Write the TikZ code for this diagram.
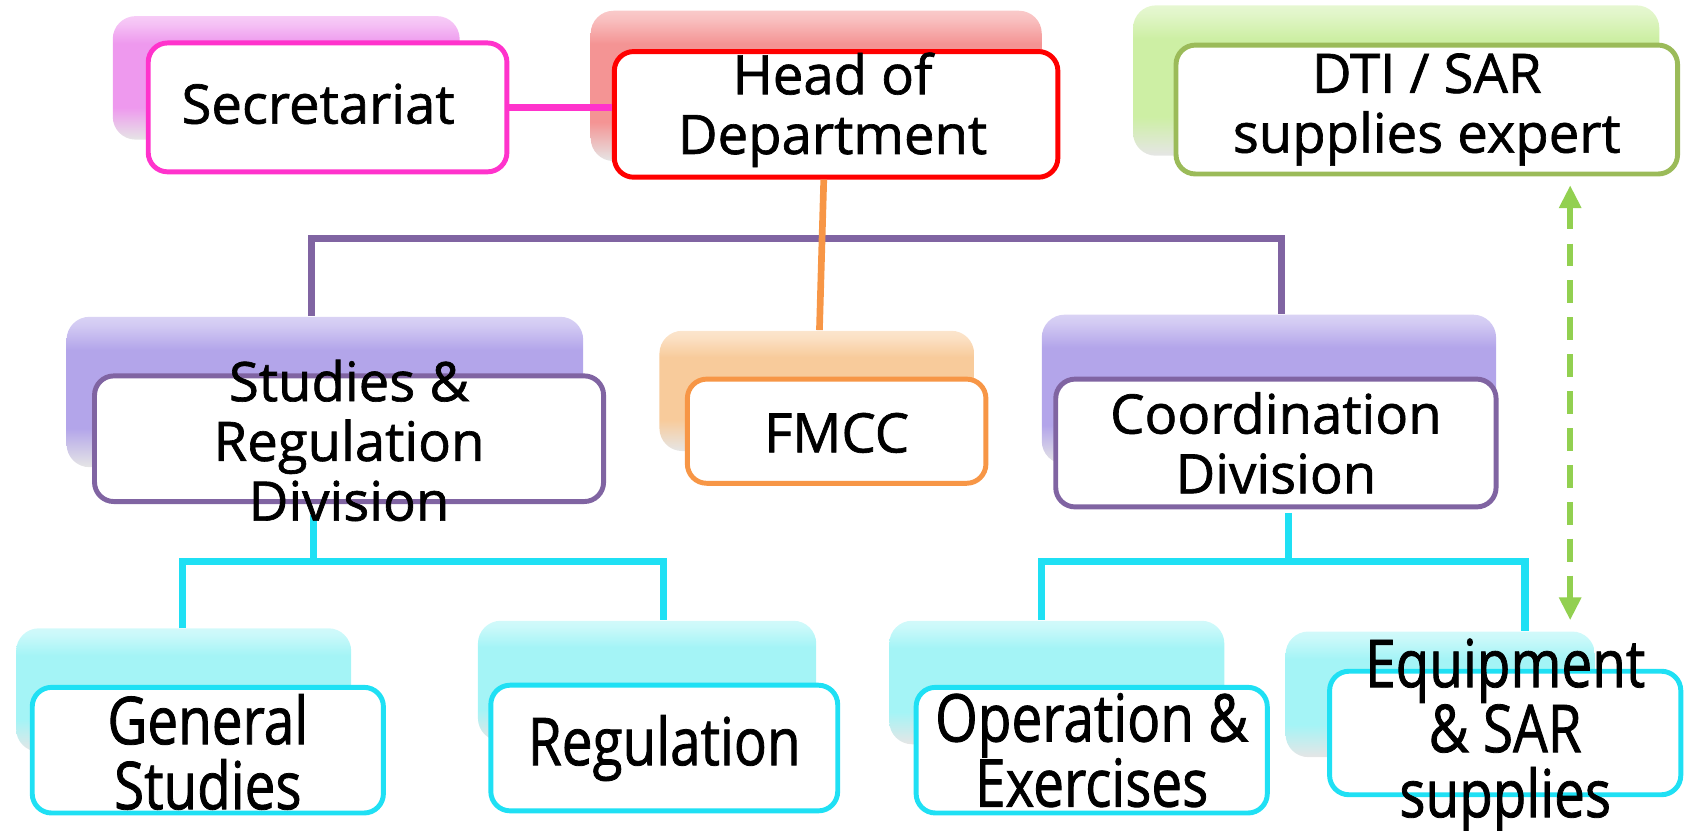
\documentclass[tikz,border=0pt]{standalone}
\usepackage{fontspec}
\setmainfont{Open Sans}[FakeBold=1.2]
\newfontfamily\tallfont[FakeStretch=0.83,FakeBold=1.2]{Open Sans}
\usepackage{tikz}
\usetikzlibrary{arrows.meta}

\definecolor{pinkline}{HTML}{FF33CC}
\definecolor{pinkback}{HTML}{EE99EE}
\definecolor{redline}{HTML}{FF0000}
\definecolor{redback}{HTML}{F49494}
\definecolor{greenline}{HTML}{9BBB59}
\definecolor{greenback}{HTML}{CDEFA4}
\definecolor{arrowgreen}{HTML}{92D050}
\definecolor{purpleline}{HTML}{8064A2}
\definecolor{purpleback}{HTML}{B3A5EA}
\definecolor{orangeline}{HTML}{F79646}
\definecolor{orangeback}{HTML}{F8CB9B}
\definecolor{cyanline}{HTML}{1FE0F4}
\definecolor{cyanback}{HTML}{A4F4F6}

% glossy fill of the back boxes
\newcommand\glossy[2]{\pgfdeclareverticalshading{#1}{100bp}{color(0bp)=(white!88!black); color(25bp)=(white!90!black); color(38bp)=(#2); color(64bp)=(#2); color(72bp)=(#2!60!white); color(75bp)=(#2!50!white); color(100bp)=(#2!50!white)}}
\glossy{pinkglossy}{pinkback}
\glossy{redglossy}{redback}
\glossy{greenglossy}{greenback}
\glossy{purpleglossy}{purpleback}
\glossy{orangeglossy}{orangeback}
\glossy{cyanglossy}{cyanback}

\newlength\pu
\setlength\pu{0.01074cm}

\begin{document}
\begin{tikzpicture}[x=\pu, y=-\pu,
  box/.style 2 args={minimum width=#1\pu, minimum height=#2\pu, inner sep=0pt},
  back/.style={shading=#1, rounded corners=6.5pt},
  front/.style={draw=#1, fill=white, line width=1.4pt, rounded corners=5.5pt},
  lbl/.style={font=\fontsize{15.5}{17}\selectfont, align=center, inner sep=0pt},
  tall/.style={font=\tallfont\fontsize{18.8}{18.5}\selectfont, align=center, inner sep=0pt},
  link/.style={draw=#1, line width=1.9pt}]
\useasboundingbox (0,0) rectangle (1568,773);

% top row
\node[back=pinkglossy, box={323}{115}] (secB) at (266.5,72.5) {};
\node[front=pinkline, box={334}{120}] (sec) at (305,100) {};
\node[back=redglossy, box={420}{140}] (hodB) at (760,80) {};
\node[front=redline, box={413}{117}] (hod) at (778.5,106.5) {};
\node[back=greenglossy, box={490}{140}] (dtiB) at (1300,75) {};
\node[front=greenline, box={467}{120}] (dti) at (1328.5,102) {};

% divisions
\node[back=purpleglossy, box={481}{140}] (srdB) at (302.5,365) {};
\node[front=purpleline, box={474}{117}] (srd) at (325,408.5) {};
\node[back=orangeglossy, box={293}{112}] (fmccB) at (760.5,364) {};
\node[front=orangeline, box={278}{97}] (fmcc) at (779,401.5) {};
\node[back=purpleglossy, box={423}{139}] (cooB) at (1181.5,362.5) {};
\node[front=purpleline, box={410}{119}] (coo) at (1188,412.5) {};

% units
\node[back=cyanglossy, box={312}{115}] (gsB) at (171,642.5) {};
\node[front=cyanline, box={327}{117}] (gs) at (193.5,698.5) {};
\node[back=cyanglossy, box={315}{112}] (regB) at (602.5,634) {};
\node[front=cyanline, box={323}{117}] (reg) at (618.5,696.5) {};
\node[back=cyanglossy, box={312}{115}] (opB) at (984,635.5) {};
\node[front=cyanline, box={327}{117}] (op) at (1016.5,698.5) {};
\node[back=cyanglossy, box={288}{117}] (eqB) at (1341,646.5) {};
\node[front=cyanline, box={327}{115}] (eq) at (1401.5,682.5) {};

% links
\coordinate (oTop) at (767,0);
\coordinate (oBot) at (763,0);
\coordinate (pL) at (290,222);
\coordinate (pR) at (1193,222);
\coordinate (cLm) at (292,523);
\coordinate (cL1) at (170,523);
\coordinate (cL2) at (618,523);
\coordinate (cRm) at (1200,523);
\coordinate (cR1) at (970,523);
\coordinate (cR2) at (1420,523);
\coordinate (gX) at (1462,0);

\draw[link=pinkline] (sec.east) -- (sec.east -| hod.west);
\draw[link=purpleline] (srdB.north -| pL) -- (pL) -- (pR) -- (cooB.north -| pR);
\draw[link=orangeline] (hod.south -| oTop) -- (fmccB.north -| oBot);
\draw[link=cyanline, line width=2.1pt, shorten <=3pt] (srd.south -| cLm) -- (cLm);
\draw[link=cyanline, line width=2.1pt] (gsB.north -| cL1) -- (cL1) -- (cL2) -- (regB.north -| cL2);
\draw[link=cyanline, line width=2.1pt, shorten <=1pt] (coo.south -| cRm) -- (cRm);
\draw[link=cyanline, line width=2.1pt] (opB.north -| cR1) -- (cR1) -- (cR2) -- (eqB.north -| cR2);
\draw[link=arrowgreen, line width=1.7pt, dash pattern=on 6.5pt off 4pt,
  {Triangle[width=6pt,length=6.5pt]}-{Triangle[width=6pt,length=6.5pt]},
  shorten <=2.5pt, shorten >=3pt] (dti.south -| gX) -- (eqB.north -| gX);

% labels
\node[lbl] (secT) at ([xshift=-2.7pt,yshift=1pt]sec.center) {Secretariat};
\node[lbl] (hodT) at ([xshift=-1pt,yshift=1.3pt]hod.center) {Head of\\Department};
\node[lbl] (dtiT) at (dti.center) {DTI / SAR\\supplies expert};
\node[lbl] (srdT) at ([yshift=-0.5pt]srd.center) {Studies \&\\Regulation\\Division};
\node[lbl] (fmccT) at ([yshift=-0.5pt]fmcc.center) {FMCC};
\node[lbl] (cooT) at (coo.center) {Coordination\\Division};
\node[tall] (gsT) at ([yshift=-0.5pt]gs.center) {General\\Studies};
\node[tall] (regT) at (reg.center) {Regulation};
\node[tall] (opT) at (op.center) {Operation \&\\Exercises};
\node[tall] (eqT) at ([yshift=-0.8pt]eq.center) {Equipment\\\& SAR\\supplies};
\end{tikzpicture}
\end{document}
